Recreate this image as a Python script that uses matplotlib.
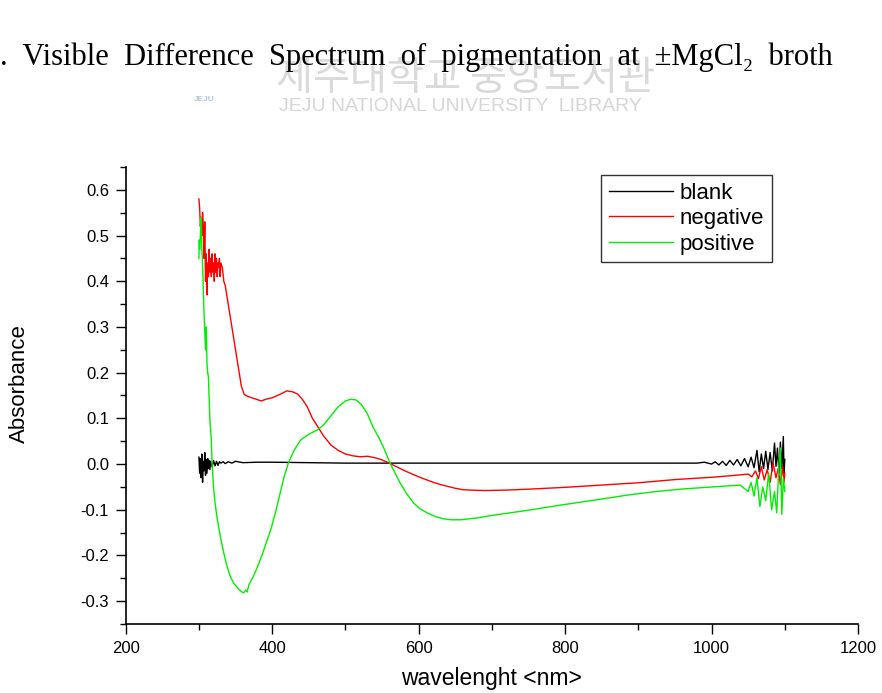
"""Visible difference spectrum of pigmentation at +/-MgCl2 broth (blank / negative / positive)."""
import numpy as np
import matplotlib
matplotlib.use("Agg")
import matplotlib.pyplot as plt
from matplotlib.ticker import MultipleLocator, FormatStrFormatter

# ---- data (wavelength nm, absorbance) ----
blank_wl = [300, 301, 302, 303, 304, 305, 306, 307, 308, 309, 310, 311, 312, 313, 314, 315, 316,
            318, 320, 322, 324, 326, 328, 330, 333, 336, 340, 345, 350, 360, 380, 400, 450,
            500, 600, 700, 800, 900, 950, 980, 990, 1000, 1005, 1010, 1015, 1020, 1025, 1030,
            1035, 1040, 1045, 1050, 1054, 1058, 1062, 1065, 1068, 1071, 1074, 1077, 1080,
            1083, 1086, 1088, 1090, 1092, 1094, 1096, 1098, 1099, 1100]
blank_abs = [0.015, -0.02, 0.012, -0.03, 0.022, -0.04, 0.006, -0.015, 0.025, -0.025, 0.01, -0.02,
             0.012, -0.01, 0.008, -0.012, 0.006, -0.006, 0.008, -0.004, 0.006, -0.003, 0.005,
             0.002, 0.005, 0.001, 0.005, 0.002, 0.006, 0.003, 0.004, 0.004, 0.003,
             0.002, 0.002, 0.002, 0.002, 0.002, 0.002, 0.002, 0.004, 0.0, 0.005, -0.002, 0.006,
             -0.003, 0.008, -0.002, 0.01, -0.004, 0.012, -0.006, 0.015, -0.008, 0.03, -0.017,
             0.022, -0.01, 0.028, -0.012, 0.025, -0.015, 0.046, -0.005, 0.035, -0.02, 0.048,
             -0.01, 0.06, -0.02, 0.01]

neg_wl = [300, 301, 302, 303, 304, 305, 306, 307, 308, 309, 310, 311, 312, 313, 314, 315, 316,
          317, 318, 319, 320, 321, 322, 323, 324, 325, 326, 327, 328, 329, 330, 332, 334, 336,
          338, 340, 345, 350, 355, 358, 362, 367, 372, 378, 385, 392, 400, 410, 420, 428, 435,
          442, 448, 455, 463, 470, 480, 490, 500, 510, 520, 530, 540, 550, 560, 570, 580, 590,
          600, 610, 620, 630, 640, 650, 660, 670, 690, 720, 750, 800, 850, 900, 950, 1000,
          1030, 1050, 1055, 1060, 1064, 1068, 1072, 1076, 1080, 1084, 1088, 1091, 1094, 1097,
          1099, 1100]
neg_abs = [0.58, 0.56, 0.52, 0.54, 0.50, 0.55, 0.52, 0.45, 0.53, 0.40, 0.46, 0.37, 0.44, 0.41,
           0.47, 0.42, 0.45, 0.41, 0.46, 0.42, 0.44, 0.40, 0.46, 0.42, 0.45, 0.41, 0.44, 0.43,
           0.45, 0.41, 0.44, 0.43, 0.40, 0.39, 0.37, 0.35, 0.30, 0.25, 0.20, 0.17, 0.152, 0.148,
           0.145, 0.142, 0.138, 0.142, 0.145, 0.152, 0.16, 0.158, 0.153, 0.14, 0.125, 0.10,
           0.08, 0.062, 0.042, 0.03, 0.022, 0.018, 0.016, 0.017, 0.014, 0.009, 0.002, -0.006,
           -0.014, -0.021, -0.028, -0.034, -0.040, -0.045, -0.049, -0.053, -0.056, -0.057,
           -0.058, -0.057, -0.055, -0.051, -0.046, -0.041, -0.034, -0.029, -0.025, -0.022,
           -0.028, -0.015, -0.032, -0.006, -0.035, -0.012, -0.04, 0.002, -0.03, -0.01, -0.045,
           -0.005, -0.04, -0.02]

pos_wl = [300, 300.5, 301, 302, 303, 304, 305, 306, 307, 308, 309, 310, 311, 312, 313, 315,
          317, 318, 320, 322, 325, 330, 334, 338, 343, 348, 353, 357, 361, 364, 366, 368, 374,
          380, 386, 392, 398, 405, 411, 416, 422, 430, 439, 450, 462, 470, 480, 490, 500, 508,
          515, 522, 530, 538, 545, 552, 561, 568, 575, 585, 593, 602, 612, 623, 634, 645, 657,
          680, 702, 750, 793, 840, 885, 920, 957, 1002, 1039, 1050, 1054, 1058, 1062, 1066,
          1070, 1074, 1078, 1082, 1086, 1089, 1092, 1094, 1096, 1098, 1100]
pos_abs = [0.45, 0.49, 0.47, 0.50, 0.54, 0.47, 0.44, 0.38, 0.33, 0.29, 0.25, 0.30, 0.22, 0.20,
           0.19, 0.096, 0.05, 0.0, -0.05, -0.085, -0.12, -0.165, -0.195, -0.222, -0.247, -0.262,
           -0.271, -0.278, -0.282, -0.276, -0.28, -0.265, -0.247, -0.225, -0.2, -0.172, -0.144,
           -0.103, -0.063, -0.03, 0.002, 0.03, 0.053, 0.065, 0.075, 0.085, 0.105, 0.125, 0.138,
           0.142, 0.14, 0.13, 0.11, 0.08, 0.06, 0.037, 0.002, -0.02, -0.042, -0.068, -0.085,
           -0.098, -0.107, -0.115, -0.12, -0.122, -0.122, -0.118, -0.112, -0.101, -0.09, -0.079,
           -0.068, -0.061, -0.055, -0.05, -0.046, -0.06, -0.04, -0.07, -0.03, -0.093, -0.05,
           -0.08, -0.02, -0.1, -0.06, -0.107, 0.0, 0.035, -0.11, -0.03, -0.06]

SERIES = [("blank", blank_wl, blank_abs, "#000000"),
          ("negative", neg_wl, neg_abs, "#ff0000"),
          ("positive", pos_wl, pos_abs, "#00ee00")]

plt.rcParams["axes.unicode_minus"] = False
plt.rcParams["font.family"] = ["Liberation Sans", "DejaVu Sans"]

fig = plt.figure(figsize=(8.82, 6.93), dpi=100)

# faint library watermark behind the title
fig.text(0.528, 0.887, "제주대학교 중앙도서관", family=["Noto Sans CJK KR"], fontsize=29,
         color="#dadada", ha="center", va="center")
fig.text(0.522, 0.847, "JEJU NATIONAL UNIVERSITY  LIBRARY", fontsize=14, color="#d6d6d6",
         ha="center", va="center")
fig.text(0.232, 0.857, "JEJU", fontsize=6, color="#b8c8d8", ha="center", va="center",
         fontweight="bold")

fig.text(0.0, 0.918, ".  Visible  Difference  Spectrum  of  pigmentation  at  \u00b1MgCl\u2082  broth",
         family=["Liberation Serif", "DejaVu Serif"], fontsize=22, ha="left", va="center")

ax = fig.add_axes([0.1425, 0.0996, 0.8303, 0.6594])
for name, wl, ab, col in SERIES:
    ax.plot(wl, ab, color=col, lw=1.0, label=name)

ax.set_xlim(200, 1200)
ax.set_ylim(-0.35, 0.65)
ax.xaxis.set_major_locator(MultipleLocator(200))
ax.xaxis.set_minor_locator(MultipleLocator(100))
ax.yaxis.set_minor_locator(MultipleLocator(0.05))
ax.set_yticks(np.arange(-0.3, 0.61, 0.1))
ax.yaxis.set_major_formatter(FormatStrFormatter("%.1f"))
ax.tick_params(which="major", direction="out", length=7, width=1.0, labelsize=12, pad=5)
ax.tick_params(which="minor", direction="out", length=4.5, width=1.0)
for s in ["top", "right"]:
    ax.spines[s].set_visible(False)
for s in ["left", "bottom"]:
    ax.spines[s].set_linewidth(1.2)

ax.set_xlabel("wavelenght <nm>", fontsize=16.5)
ax.xaxis.set_label_coords(0.5, -0.094)
ax.set_ylabel("Absorbance", fontsize=16)
ax.yaxis.set_label_coords(-0.131, 0.526)

leg = ax.legend(loc="upper right", bbox_to_anchor=(0.8826, 0.9825), fontsize=16, frameon=True,
                fancybox=False, edgecolor="black", handlelength=2.9, handletextpad=0.3,
                labelspacing=0.2, borderpad=0.35, borderaxespad=0)
leg.get_frame().set_linewidth(1.0)

fig.savefig("out.png", dpi=100)
